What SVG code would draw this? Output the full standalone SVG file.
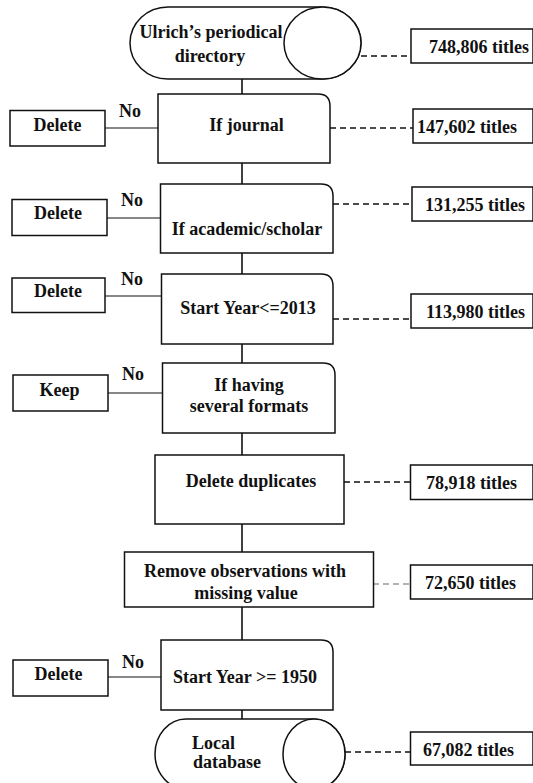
<svg xmlns="http://www.w3.org/2000/svg" width="533" height="783" viewBox="0 0 533 783">
<style>
  text { font-family: "Liberation Serif", "Times New Roman", serif; font-weight: bold; font-size: 18px; fill: #111; }
  .box { fill: #fff; stroke: #111; stroke-width: 1.5; }
  .ln { fill: none; stroke: #111; stroke-width: 1.6; }
  .thin { fill: none; stroke: #111; stroke-width: 1.1; }
  .dash { fill: none; stroke: #111; stroke-width: 1.5; stroke-dasharray: 6 4; }
  .dashg { fill: none; stroke: #666; stroke-width: 1.2; stroke-dasharray: 6 4; }
  .c { text-anchor: middle; }
</style>
<rect width="533" height="783" fill="#fff"/>
<g id="connectors">
  <line class="ln" x1="242" y1="79" x2="242" y2="94"/>
  <line class="ln" x1="242" y1="163" x2="242" y2="184"/>
  <line class="ln" x1="242" y1="253" x2="242" y2="274"/>
  <line class="ln" x1="242" y1="344" x2="242" y2="363"/>
  <line class="ln" x1="242" y1="433" x2="242" y2="455"/>
  <line class="ln" x1="242" y1="524" x2="242" y2="552"/>
  <line class="ln" x1="242" y1="607" x2="242" y2="640"/>
  <line class="ln" x1="242" y1="710" x2="242" y2="719"/>
  <line class="thin" x1="105" y1="128" x2="158" y2="128"/>
  <line class="thin" x1="107" y1="218" x2="160" y2="218"/>
  <line class="thin" x1="105" y1="296" x2="161" y2="296"/>
  <line class="thin" x1="108" y1="393" x2="162" y2="393"/>
  <line class="thin" x1="108" y1="677" x2="161" y2="677"/>
  <line class="dash" x1="361" y1="56" x2="411" y2="56"/>
  <line class="dash" x1="330" y1="128" x2="413" y2="128"/>
  <line class="dash" x1="333" y1="204" x2="412" y2="204"/>
  <line class="dash" x1="333" y1="319" x2="411" y2="319"/>
  <line class="dash" x1="344" y1="482" x2="410" y2="482"/>
  <line class="dashg" x1="373" y1="584" x2="410" y2="584"/>
  <line class="dash" x1="345" y1="752" x2="410" y2="752"/>
  <text x="119" y="117">No</text>
  <text x="121" y="206">No</text>
  <text x="121" y="285">No</text>
  <text x="122" y="380">No</text>
  <text x="122" y="668">No</text>
</g>
<g id="ulrich">
  <path class="box" d="M168 7 H322.5 A38.5 36 0 0 1 322.5 79 H168 A38 36 0 0 1 168 7 Z"/>
  <ellipse class="box" cx="322.5" cy="43" rx="38.5" ry="36"/>
  <text class="c" x="211" y="38">Ulrich’s periodical</text>
  <text class="c" x="210" y="62">directory</text>
</g>
<g id="t748806">
  <rect class="box" x="411" y="29" width="122" height="34"/>
  <text x="429" y="53">748,806 titles</text>
</g>
<g id="journal">
  <path class="box" d="M158 94 H318 Q330 94 330 106 V163 H158 Z"/>
  <text class="c" x="246.5" y="131">If journal</text>
</g>
<g id="del1">
  <rect class="box" x="10" y="110.5" width="95" height="35.5"/>
  <text class="c" x="57.5" y="131">Delete</text>
</g>
<g id="t147602">
  <rect class="box" x="413" y="109" width="120" height="34"/>
  <text x="417" y="133">147,602 titles</text>
</g>
<g id="academic">
  <path class="box" d="M160.5 184 H321 Q333 184 333 196 V253 H160.5 Z"/>
  <text class="c" x="247" y="235">If academic/scholar</text>
</g>
<g id="del2">
  <rect class="box" x="12" y="199.5" width="95" height="36"/>
  <text class="c" x="58" y="219">Delete</text>
</g>
<g id="t131255">
  <rect class="box" x="412" y="187" width="121" height="34"/>
  <text x="425" y="211">131,255 titles</text>
</g>
<g id="start2013">
  <path class="box" d="M161.5 274 H321 Q333 274 333 286 V344 H161.5 Z"/>
  <text class="c" x="248" y="314">Start Year&lt;=2013</text>
</g>
<g id="del3">
  <rect class="box" x="12" y="278" width="93" height="34.5"/>
  <text class="c" x="58" y="297">Delete</text>
</g>
<g id="t113980">
  <rect class="box" x="411" y="294" width="122" height="34"/>
  <text x="426" y="318">113,980 titles</text>
</g>
<g id="formats">
  <path class="box" d="M162.5 363 H323 Q335 363 335 375 V433 H162.5 Z"/>
  <text class="c" x="249" y="391">If having</text>
  <text class="c" x="249" y="412">several formats</text>
</g>
<g id="keep">
  <rect class="box" x="13" y="375" width="95" height="36"/>
  <text class="c" x="59.5" y="396">Keep</text>
</g>
<g id="duplicates">
  <rect class="box" x="155" y="455" width="189" height="69"/>
  <text class="c" x="251" y="487">Delete duplicates</text>
</g>
<g id="t78918">
  <rect class="box" x="410.5" y="465" width="122.5" height="34.5"/>
  <text x="426" y="489">78,918 titles</text>
</g>
<g id="missing">
  <rect class="box" x="124.5" y="552" width="249" height="55"/>
  <text class="c" x="245" y="577">Remove observations with</text>
  <text class="c" x="246" y="599">missing value</text>
</g>
<g id="t72650">
  <rect class="box" x="410.5" y="565" width="122.5" height="34"/>
  <text x="425" y="589">72,650 titles</text>
</g>
<g id="start1950">
  <path class="box" d="M161 640 H321 Q333 640 333 652 V710 H161 Z"/>
  <text class="c" x="245" y="683">Start Year &gt;= 1950</text>
</g>
<g id="del4">
  <rect class="box" x="13" y="660" width="95" height="36"/>
  <text class="c" x="58.5" y="680">Delete</text>
</g>
<g id="local">
  <path class="box" d="M186 719 H314 A31 35 0 0 1 314 789 H186 A31 35 0 0 1 186 719 Z"/>
  <ellipse class="box" cx="314" cy="754" rx="31" ry="35"/>
  <text x="192" y="749">Local</text>
  <text x="193" y="768">database</text>
</g>
<g id="t67082">
  <rect class="box" x="410.5" y="732" width="122.5" height="33"/>
  <text x="423" y="756">67,082 titles</text>
</g>
</svg>
